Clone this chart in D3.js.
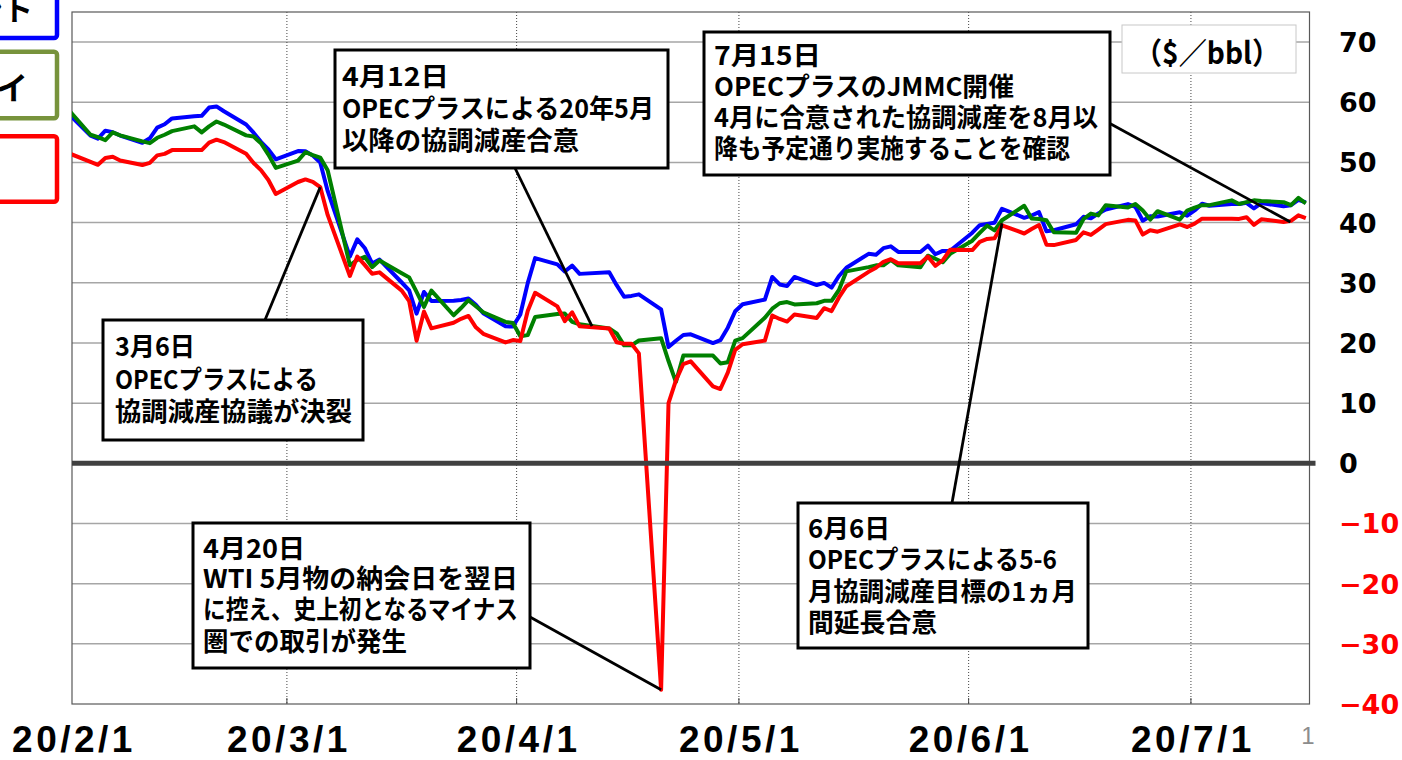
<!DOCTYPE html>
<html><head><meta charset="utf-8">
<script src="https://cdn.jsdelivr.net/npm/d3@7"></script>
<style>body{margin:0;background:#fff;} svg{display:block;}</style>
</head><body>
<svg id="c" width="1402" height="760"></svg>
<script>
// ---------------- DATA ----------------
const dates = [
"2020-01-31",
"2020-02-03","2020-02-04","2020-02-05","2020-02-06","2020-02-07",
"2020-02-10","2020-02-11","2020-02-12","2020-02-13","2020-02-14",
"2020-02-17","2020-02-18","2020-02-19","2020-02-20","2020-02-21",
"2020-02-24","2020-02-25","2020-02-26","2020-02-27","2020-02-28",
"2020-03-02","2020-03-03","2020-03-04","2020-03-05","2020-03-06",
"2020-03-09","2020-03-10","2020-03-11","2020-03-12","2020-03-13",
"2020-03-16","2020-03-17","2020-03-18","2020-03-19","2020-03-20",
"2020-03-23","2020-03-24","2020-03-25","2020-03-26","2020-03-27",
"2020-03-30","2020-03-31",
"2020-04-01","2020-04-02","2020-04-03",
"2020-04-06","2020-04-07","2020-04-08","2020-04-09",
"2020-04-13","2020-04-14","2020-04-15","2020-04-16","2020-04-17",
"2020-04-20","2020-04-21","2020-04-22","2020-04-23","2020-04-24",
"2020-04-27","2020-04-28","2020-04-29","2020-04-30",
"2020-05-01",
"2020-05-04","2020-05-05","2020-05-06","2020-05-07","2020-05-08",
"2020-05-11","2020-05-12","2020-05-13","2020-05-14","2020-05-15",
"2020-05-18","2020-05-19","2020-05-20","2020-05-21","2020-05-22",
"2020-05-25","2020-05-26","2020-05-27","2020-05-28","2020-05-29",
"2020-06-01","2020-06-02","2020-06-03","2020-06-04","2020-06-05",
"2020-06-08","2020-06-09","2020-06-10","2020-06-11","2020-06-12",
"2020-06-15","2020-06-16","2020-06-17","2020-06-18","2020-06-19",
"2020-06-22","2020-06-23","2020-06-24","2020-06-25","2020-06-26",
"2020-06-29","2020-06-30",
"2020-07-01","2020-07-02","2020-07-03",
"2020-07-06","2020-07-07","2020-07-08","2020-07-09","2020-07-10",
"2020-07-13","2020-07-14","2020-07-15","2020-07-16"
];
const brent = [
58.16,
54.45,53.96,55.28,55.02,54.47,
53.27,54.01,55.79,56.34,57.32,
57.67,57.75,59.12,59.31,58.50,
56.30,54.95,53.43,52.18,50.52,
51.90,51.86,51.13,49.99,45.27,
34.36,37.22,35.79,33.22,33.85,
30.05,28.73,24.88,28.47,26.98,
27.03,27.15,27.39,26.34,24.93,
22.76,22.74,
24.74,29.94,34.11,
33.05,31.87,32.84,31.48,
31.74,29.60,27.69,27.82,28.08,
25.57,19.33,20.37,21.33,21.44,
19.99,20.46,22.54,25.27,
26.44,
27.20,30.97,29.72,29.46,30.97,
29.63,29.98,29.19,31.13,32.50,
34.81,34.65,35.75,36.06,35.13,
35.13,36.17,34.74,35.29,35.33,
38.32,39.57,39.79,39.99,42.30,
40.80,41.18,41.73,38.55,38.73,
39.72,40.96,40.71,41.51,42.19,
43.08,42.63,40.31,41.05,41.02,
41.71,41.15,
42.03,43.14,42.80,
43.10,43.08,43.29,42.35,43.24,
42.72,42.90,43.79,43.37
];
const dubai = [
58.8,
54.6,54.2,53.7,55.0,54.5,
53.5,53.2,54.1,54.6,55.2,
56.0,55.0,56.0,56.8,56.3,
54.5,54.3,53.2,51.3,49.1,
50.3,51.7,51.2,50.8,48.7,
32.9,33.8,34.3,32.6,33.7,
31.6,30.9,28.5,26.0,28.7,
24.6,25.8,27.1,26.1,25.1,
23.5,23.3,
21.1,21.3,24.3,
24.8,24.9,23.5,23.1,
22.4,21.6,19.6,19.6,20.4,
20.8,17.0,13.5,17.9,17.9,
17.9,16.6,16.8,20.4,
20.8,
24.2,25.7,26.6,26.8,26.4,
26.6,27.0,27.0,28.8,31.9,
32.6,32.9,32.9,33.8,32.9,
32.6,34.5,34.0,33.4,34.8,
37.0,38.3,39.5,38.7,40.4,
42.8,40.7,40.6,40.4,38.4,
38.3,40.6,41.5,41.2,42.9,
42.5,43.1,42.0,40.5,41.9,
40.5,42.0,
42.5,42.9,42.9,
43.7,43.1,43.4,43.7,43.6,
43.4,42.9,44.1,43.2
];
const wti = [
51.56,
50.11,49.61,50.75,50.95,50.32,
49.57,49.94,51.17,51.42,52.05,
52.05,52.05,53.29,53.78,53.38,
51.43,49.90,48.73,47.09,44.76,
46.75,47.18,46.78,45.90,41.28,
31.13,34.36,32.98,31.50,31.73,
28.70,26.95,20.37,25.22,22.43,
23.36,24.01,24.49,22.60,21.51,
20.09,20.48,
20.31,25.32,28.34,
26.08,23.63,25.09,22.76,
22.41,20.11,19.87,19.87,18.27,
-37.63,10.01,13.78,16.50,16.94,
12.78,12.34,15.06,18.84,
19.78,
20.39,24.56,23.99,23.55,24.74,
24.14,25.78,25.29,27.56,29.43,
31.82,32.50,33.49,33.92,33.25,
33.25,34.35,32.81,33.71,35.49,
35.44,36.81,37.29,37.41,39.55,
38.19,38.94,39.60,36.34,36.26,
37.12,38.38,37.96,38.84,39.75,
40.46,40.37,38.01,38.72,38.49,
39.70,39.27,
39.82,40.65,40.65,
40.63,40.62,40.90,39.62,40.55,
40.10,40.29,41.20,40.75
];
const seriesNames = ["ブレント","ドバイ","WTI"];
const yTicks = [70,60,50,40,30,20,10,0,-10,-20,-30,-40];
const yTickLabels = ["70","60","50","40","30","20","10","0","−10","−20","−30","−40"];
const xTickDates = ["2020-02-01","2020-03-01","2020-04-01","2020-05-01","2020-06-01","2020-07-01"];
const xTickLabels = ["20/2/1","20/3/1","20/4/1","20/5/1","20/6/1","20/7/1"];
const unitLabel = "（$／bbl）";
const noteMar6 = ["3月6日","OPECプラスによる","協調減産協議が決裂"];
const noteApr12 = ["4月12日","OPECプラスによる20年5月","以降の協調減産合意"];
const noteApr20 = ["4月20日","WTI 5月物の納会日を翌日","に控え、史上初となるマイナス","圏での取引が発生"];
const noteJun6 = ["6月6日","OPECプラスによる5-6","月協調減産目標の1ヵ月","間延長合意"];
const noteJul15 = ["7月15日","OPECプラスのJMMC開催","4月に合意された協調減産を8月以","降も予定通り実施することを確認"];
// leader-line targets (date, value)
const noteTargets = [["2020-03-05T12:00",45.9],["2020-04-11T04:00",22.8],["2020-04-20T12:00",-37.63],["2020-06-05T12:00",39.9],["2020-07-14T10:00",40.1]];

// ---------------- CHART ----------------
const svg = d3.select("#c");
svg.append("rect").attr("width",1402).attr("height",760).attr("fill","#fff");
const L = 72, R = 1309.5, T = 12, B = 704;
const parse = s => new Date(s.length > 10 ? s + "Z" : s + "T00:00:00Z");
const x = d3.scaleUtc().domain([parse("2020-02-01"), parse("2020-07-17")]).range([L, R]);
const y = d3.scaleLinear().domain([-40, 75]).range([B, T]);
const half = 12 * 3600 * 1000;

// horizontal grid
svg.append("g").selectAll("line").data(yTicks.filter(v => v > -40 && v !== 0)).join("line")
  .attr("x1", L).attr("x2", R).attr("y1", d => y(d)).attr("y2", d => y(d))
  .attr("stroke", "#a6a6a6").attr("stroke-width", 1.5);
// vertical dotted grid
svg.append("g").selectAll("line").data(xTickDates.slice(1)).join("line")
  .attr("x1", d => x(parse(d))).attr("x2", d => x(parse(d))).attr("y1", T).attr("y2", B)
  .attr("stroke", "#444").attr("stroke-width", 1).attr("stroke-dasharray", "1,2");
// frame
svg.append("rect").attr("x", L).attr("y", T).attr("width", R - L).attr("height", B - T)
  .attr("fill", "none").attr("stroke", "#595959").attr("stroke-width", 1.2);
// x ticks (inside)
svg.append("g").selectAll("line").data(xTickDates.slice(1)).join("line")
  .attr("x1", d => x(parse(d))).attr("x2", d => x(parse(d))).attr("y1", B - 6).attr("y2", B)
  .attr("stroke", "#444").attr("stroke-width", 1);

// series
svg.append("defs").append("clipPath").attr("id", "clip").append("rect")
  .attr("x", L).attr("y", T).attr("width", R - L).attr("height", B - T);
const pts = dates.map(parse);
const line = d3.line().x((d, i) => x(new Date(pts[i].getTime() + half))).y(d => y(d));
const sg = svg.append("g").attr("clip-path", "url(#clip)");
[[brent, "#0000ff"], [dubai, "#008000"], [wti, "#ff0000"]].forEach(([vals, col]) => {
  sg.append("path").attr("d", line(vals)).attr("fill", "none").attr("stroke", col)
    .attr("stroke-width", 4).attr("stroke-linejoin", "round");
});

// zero line
svg.append("line").attr("x1", L).attr("x2", R + 6).attr("y1", y(0)).attr("y2", y(0))
  .attr("stroke", "#404040").attr("stroke-width", 5);

// y labels (right)
svg.append("g").selectAll("text").data(yTicks).join("text")
  .attr("x", 1339).attr("y", d => y(d) + 10)
  .attr("font-family", "DejaVu Sans").attr("font-weight", "bold").attr("font-size", 27)
  .attr("fill", d => d < 0 ? "#ff0000" : "#000")
  .text((d, i) => yTickLabels[i]);

// x labels
svg.append("g").selectAll("text").data(xTickDates).join("text")
  .attr("x", d => x(parse(d)) + 2).attr("y", 752).attr("text-anchor", "middle")
  .attr("font-family", "Liberation Sans").attr("font-weight", "bold").attr("font-size", 37)
  .attr("letter-spacing", 3.5)
  .text((d, i) => xTickLabels[i]);

// slide number
svg.append("text").attr("x", 1308).attr("y", 744).attr("text-anchor", "middle")
  .attr("font-family", "Liberation Sans").attr("font-size", 24).attr("fill", "#8c8c8c").text("1");

// unit box
svg.append("rect").attr("x", 1122).attr("y", 25).attr("width", 174).attr("height", 48)
  .attr("fill", "#fff").attr("stroke", "#c8c8c8").attr("stroke-width", 1);
svg.append("text").attr("x", 1134).attr("y", 64)
  .attr("font-family", "Noto Sans CJK JP").attr("font-weight", "bold").attr("font-size", 30)
  .attr("textLength", 146).attr("lengthAdjust", "spacingAndGlyphs")
  .text(unitLabel);

// annotations (box geometry + target line widths are layout)
const notes = [
  {lines: noteMar6, box: [103, 320, 260, 120], tx: 115, ty: [356, 389, 421], w: [80, 203, 237], from: [265, 320]},
  {lines: noteApr12, box: [335, 50, 333, 118], tx: 342, ty: [86, 118, 150], w: [107, 312, 237], from: [515, 168]},
  {lines: noteApr20, box: [193, 523, 337, 145], tx: 203, ty: [558, 588, 619, 651], w: [102, 315, 315, 204], from: [530, 617]},
  {lines: noteJun6, box: [798, 503, 290, 145], tx: 808, ty: [538, 569, 601, 632], w: [82, 249, 269, 129], from: [952, 503]},
  {lines: noteJul15, box: [704, 32, 406, 143], tx: 714, ty: [65, 96, 127, 158], w: [107, 300, 384, 356], from: [1109, 123]}
];
const ag = svg.append("g");
notes.forEach((n, i) => {
  const t = noteTargets[i];
  ag.append("line").attr("x1", n.from[0]).attr("y1", n.from[1])
    .attr("x2", x(parse(t[0]))).attr("y2", y(t[1]))
    .attr("stroke", "#000").attr("stroke-width", 2.8);
});
notes.forEach(n => {
  ag.append("rect").attr("x", n.box[0]).attr("y", n.box[1]).attr("width", n.box[2]).attr("height", n.box[3])
    .attr("fill", "#fff").attr("stroke", "#000").attr("stroke-width", 3);
  const tx = ag.append("text")
    .attr("font-family", "Noto Sans CJK JP").attr("font-weight", "bold").attr("font-size", 26);
  n.lines.forEach((s, k) => {
    tx.append("tspan").attr("x", n.tx).attr("y", n.ty[k])
      .attr("textLength", n.w[k]).attr("lengthAdjust", "spacingAndGlyphs")
      .text(s);
  });
});

// legend (partially off-canvas at left)
const legBoxes = [[-40, -8, 97, 46, "#0000ff", 33, 20, 30], [-40, 51.7, 97, 66.6, "#77933c", 28, 100, 32], [-40, 136.3, 97, 65.4, "#ff0000", -12, 180, 32]];
legBoxes.forEach((b, i) => {
  svg.append("rect").attr("x", b[0]).attr("y", b[1]).attr("width", b[2]).attr("height", b[3])
    .attr("rx", 3).attr("fill", "#fff").attr("stroke", b[4]).attr("stroke-width", 4.5);
  svg.append("text").attr("x", b[5]).attr("y", b[6]).attr("text-anchor", "end")
    .attr("font-family", "Noto Sans CJK JP").attr("font-weight", "bold").attr("font-size", b[7])
    .text(seriesNames[i]);
});
</script>
</body></html>
